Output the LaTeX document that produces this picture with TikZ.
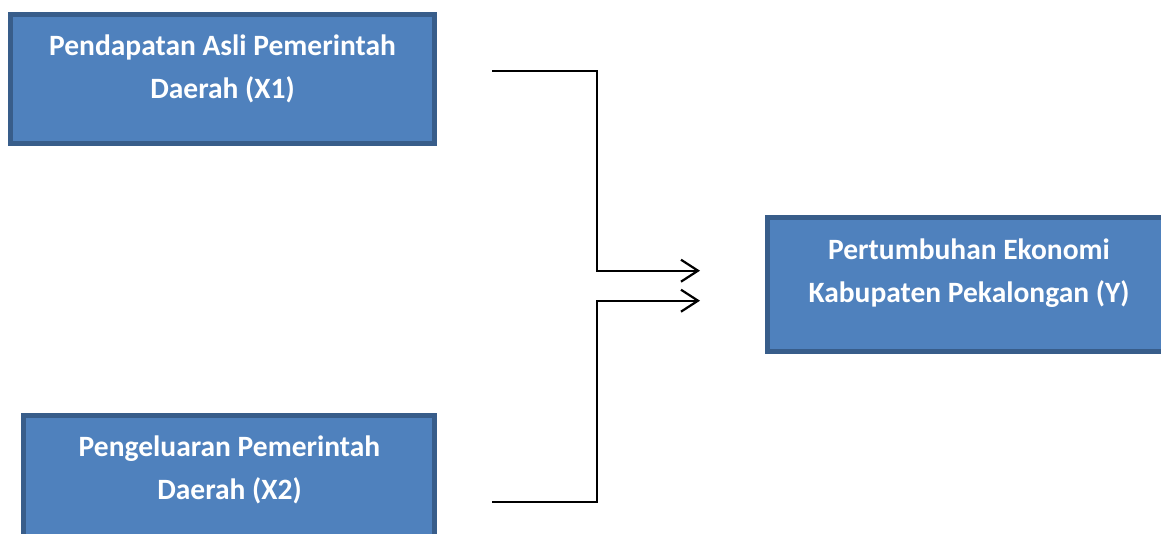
\documentclass[tikz,border=0pt]{standalone}
\usepackage{fontspec}
\setmainfont{Carlito}
\usetikzlibrary{arrows.meta,positioning,calc}
\definecolor{boxblue}{RGB}{79,129,189}
\definecolor{boxedge}{RGB}{56,93,138}

\tikzset{
    varbox/.style={draw=boxedge, line width=5pt, fill=boxblue, inner sep=0pt},
    vartext/.style={text=white, font=\fontsize{29.5}{42.5}\selectfont\bfseries, align=center, inner sep=0pt},
    link/.style={line width=2.2pt, -{Straight Barb[length=17pt,width=22pt,line width=2.2pt]}}
}

\begin{document}
\begin{tikzpicture}[x=1pt, y=-1pt]
    \useasboundingbox (0,0) rectangle (1161,534);
    % variable boxes
    \node[varbox, minimum width=424pt, minimum height=129pt] (pad) at (222.5,79) {};
    \node[varbox, minimum width=411pt, minimum height=129pt] (belanja) at (229,480) {};
    \node[varbox, minimum width=403pt, minimum height=134pt] (growth) at (969,284.5) {};
    \node[vartext] (padtext) at (222.5,69) {Pendapatan Asli Pemerintah\\Daerah (X1)};
    \node[vartext] (belanjatext) at (229.5,470) {Pengeluaran Pemerintah\\Daerah (X2)};
    \node[vartext] (growthtext) at (969,273) {Pertumbuhan Ekonomi\\Kabupaten Pekalongan (Y)};
    % connector ends
    \coordinate (x1out) at (492,70.7);
    \coordinate (x2out) at (492,501.7);
    \coordinate (joint1) at (596.7,270.7);
    \coordinate (joint2) at (596.7,300.7);
    \coordinate (yin1) at (700,270.7);
    \coordinate (yin2) at (700,300.7);
    \draw[link] (x1out) -| (joint1) -- (yin1);
    \draw[link] (x2out) -| (joint2) -- (yin2);
\end{tikzpicture}
\end{document}
